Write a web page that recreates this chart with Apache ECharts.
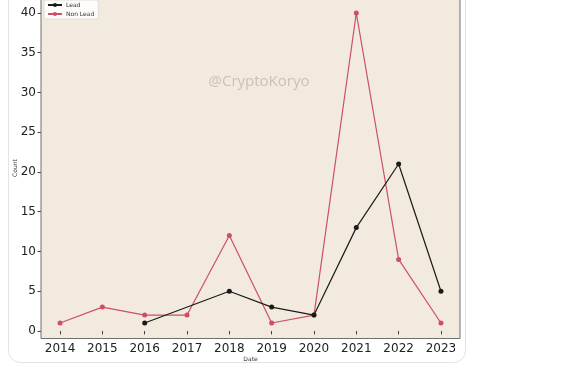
<!DOCTYPE html>
<html>
<head>
<meta charset="utf-8">
<script src="https://cdn.jsdelivr.net/npm/echarts@6/dist/echarts.min.js"></script>
<style>html,body{margin:0;padding:0;background:#fff;}#c{width:588px;height:366px;}</style>
</head>
<body>
<div id="c"></div>
<script>
const years = [2014, 2015, 2016, 2017, 2018, 2019, 2020, 2021, 2022, 2023];
const leadValues = [null, null, 1, null, 5, 3, 2, 13, 21, 5];
const nonLeadValues = [1, 3, 2, 2, 12, 1, 2, 40, 9, 1];
const yTicks = [0, 5, 10, 15, 20, 25, 30, 35, 40];

const toPairs = vals => years.map((y, i) => [y, vals[i]]).filter(p => p[1] !== null);

const chart = echarts.init(document.getElementById('c'), null, {renderer: 'canvas'});
const font = 'DejaVu Sans';
chart.setOption({
  animation: false,
  backgroundColor: '#ffffff',
  graphic: [
    {type: 'rect', z: -10, shape: {x: 8.5, y: -20, width: 457, height: 382.5, r: 12},
     style: {fill: '#ffffff', stroke: '#dfe4e8', lineWidth: 1}},
    {type: 'text', z: 5, x: 259, y: 82,
     style: {text: '@CryptoKoryo', font: '15px "Open Sans"', fill: '#c9c2b8', textAlign: 'center', textVerticalAlign: 'middle'}}
  ],
  grid: {left: 41, right: 128, top: -2.5, bottom: 27.5, show: true, containLabel: false, outerBoundsMode: 'none',
         backgroundColor: '#f2eadf', borderColor: '#6f6f6f', borderWidth: 1},
  legend: {
    left: 44, top: 0, orient: 'vertical', itemWidth: 14, itemHeight: 5, itemGap: 3,
    padding: [2, 4, 2, 3], backgroundColor: 'rgba(255,255,255,0.85)', borderColor: '#dddddd', borderWidth: 1, borderRadius: 2,
    textStyle: {fontFamily: font, fontSize: 6, color: '#333', padding: [0, 0, 0, -1]},
    data: ['Lead', 'Non Lead']
  },
  xAxis: {
    type: 'value', min: 2013.55, max: 2023.45,
    name: 'Date', nameLocation: 'middle', nameGap: 20.5, nameMoveOverlap: false,
    nameTextStyle: {fontFamily: font, fontSize: 6, color: '#333', verticalAlign: 'middle'},
    axisLine: {show: false},
    splitLine: {show: false},
    axisTick: {show: true, length: 3.5, lineStyle: {color: '#444'}, customValues: years},
    axisLabel: {fontFamily: font, fontSize: 12, color: '#222', margin: 4, customValues: years,
                formatter: v => String(v)}
  },
  yAxis: {
    type: 'value', min: -0.95, max: 41.95,
    name: 'Count', nameLocation: 'middle', nameGap: 26, nameRotate: 90, nameMoveOverlap: false,
    nameTextStyle: {fontFamily: font, fontSize: 6, color: '#333', verticalAlign: 'middle'},
    axisLine: {show: false},
    splitLine: {show: false},
    axisTick: {show: true, length: 3.5, lineStyle: {color: '#444'}, customValues: yTicks},
    axisLabel: {fontFamily: font, fontSize: 12, color: '#222', margin: 5, customValues: yTicks}
  },
  series: [
    {name: 'Lead', type: 'line', data: toPairs(leadValues), symbol: 'circle', symbolSize: 5,
     lineStyle: {color: '#1a1a1a', width: 1.2}, itemStyle: {color: '#1a1a1a'}, z: 3},
    {name: 'Non Lead', type: 'line', data: toPairs(nonLeadValues), symbol: 'circle', symbolSize: 5,
     lineStyle: {color: '#cc5064', width: 1.2}, itemStyle: {color: '#cc5064'}, z: 2}
  ]
});
</script>
</body>
</html>
